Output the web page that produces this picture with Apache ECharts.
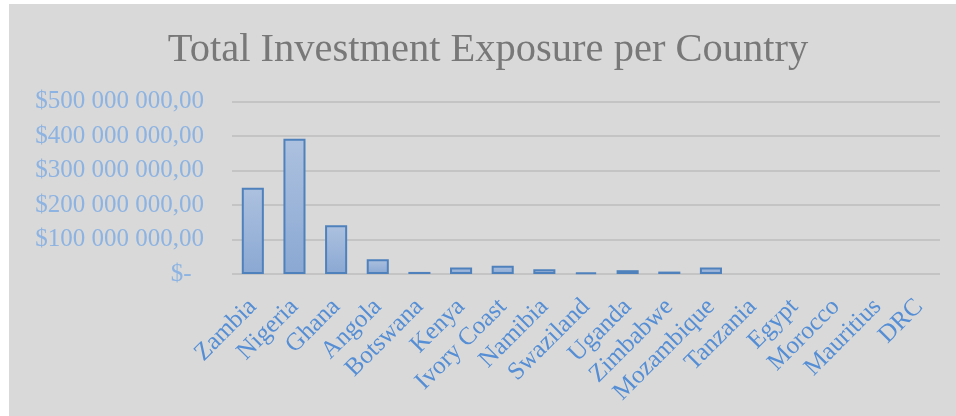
<!DOCTYPE html>
<html>
<head>
<meta charset="utf-8">
<script src="https://cdn.jsdelivr.net/npm/echarts@6/dist/echarts.min.js"></script>
<style>
  html, body { margin: 0; padding: 0; background: #ffffff; }
  #chart { position: absolute; left: 9px; top: 4px; width: 947px; height: 412px; }
</style>
</head>
<body>
<div id="chart"></div>
<script>
// countries along the x axis
var countries = ['Zambia', 'Nigeria', 'Ghana', 'Angola', 'Botswana', 'Kenya', 'Ivory Coast',
  'Namibia', 'Swaziland', 'Uganda', 'Zimbabwe', 'Mozambique', 'Tanzania', 'Egypt',
  'Morocco', 'Mauritius', 'DRC'];
// exposure in $
var exposure = [250000000, 392000000, 141000000, 43000000, 6000000, 19000000, 24000000,
  14000000, 5000000, 11000000, 7000000, 19000000, 0, 0, 0, 0, 0];

function money(v) {
  if (v === 0) return '$-  ';
  var s = String(Math.round(v)).replace(/\B(?=(\d{3})+(?!\d))/g, ' ');
  return '$' + s + ',00';
}

var chartDom = document.getElementById('chart');
var myChart = echarts.init(chartDom);
var option = {
  backgroundColor: '#d9d9d9',
  animation: false,
  title: {
    text: 'Total Investment Exposure per Country',
    left: 474,
    top: 21,
    textAlign: 'center',
    textStyle: {
      fontFamily: 'Liberation Serif',
      fontSize: 40.5,
      fontWeight: 'normal',
      color: '#787878'
    }
  },
  grid: {
    left: 223,
    right: 16,
    top: 97.5,
    bottom: 142
  },
  xAxis: {
    type: 'category',
    data: countries,
    axisLine: { show: false },
    axisTick: { show: false },
    axisLabel: {
      interval: 0,
      rotate: 45,
      margin: 29,
      fontFamily: 'Liberation Serif',
      fontSize: 25,
      color: '#558ed5'
    }
  },
  yAxis: {
    type: 'value',
    min: 0,
    max: 500000000,
    interval: 100000000,
    axisLine: { show: false },
    axisTick: { show: false },
    splitLine: { lineStyle: { color: '#bcbcbc', width: 1.5 } },
    axisLabel: {
      margin: 28,
      fontFamily: 'Liberation Serif',
      fontSize: 25,
      color: '#8db3e2',
      formatter: money
    }
  },
  series: [
    {
      type: 'bar',
      barWidth: '53%',
      data: exposure.map(function (v) { return v === 0 ? '-' : v; }),
      itemStyle: {
        color: new echarts.graphic.LinearGradient(0, 0, 0, 1, [
          { offset: 0, color: '#adc1df' },
          { offset: 1, color: '#8aa8d3' }
        ]),
        borderColor: '#4f81bd',
        borderWidth: 2
      }
    }
  ]
};
myChart.setOption(option);
</script>
</body>
</html>
